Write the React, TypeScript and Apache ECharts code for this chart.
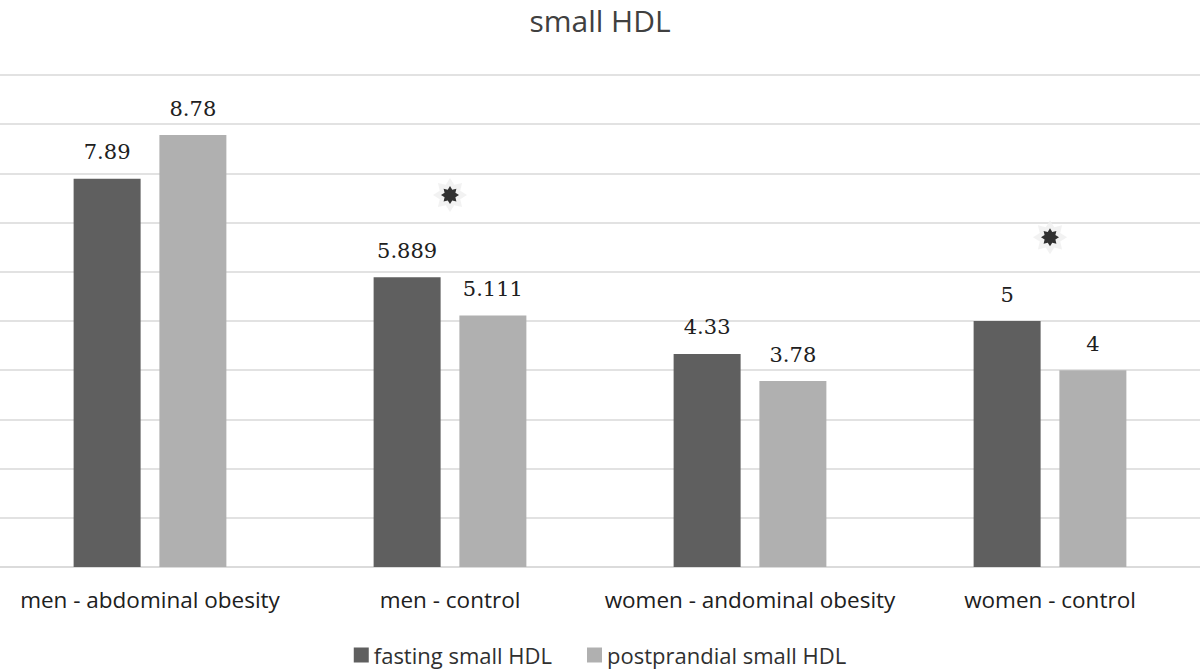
import React, { useEffect, useRef } from "react";
import * as echarts from "echarts";

const categories = ["men - abdominal obesity", "men - control", "women - andominal obesity", "women - control"];
const fasting = [7.89, 5.889, 4.33, 5];
const postprandial = [8.78, 5.111, 3.78, 4];
const fastingLabels = ["7.89", "5.889", "4.33", "5"];
const postLabels = ["8.78", "5.111", "3.78", "4"];
const starValues: (number | null)[] = [null, 7.56, null, 6.7];

const starPath =
  "path://M200,100 L160,125 L171,171 L125,160 L100,200 L75,160 L29,171 L40,125 L0,100 L40,75 L29,29 L75,40 L100,0 L125,40 L171,29 L160,75 Z";

export default function App() {
  const ref = useRef<HTMLDivElement>(null);
  useEffect(() => {
    if (!ref.current) return;
    const chart = echarts.init(ref.current, undefined, { renderer: "svg" });
    const font = "'Open Sans', sans-serif";
    const labelFont = "'DejaVu Serif', serif";
    chart.setOption({
      animation: false,
      backgroundColor: "#ffffff",
      title: {
        text: "small HDL",
        left: "center",
        top: 0,
        textStyle: { fontFamily: font, fontSize: 30, fontWeight: "normal", color: "#404040" },
      },
      legend: {
        data: ["fasting small HDL", "postprandial small HDL"],
        bottom: 0,
        left: "center",
        itemWidth: 15,
        itemHeight: 15,
        itemGap: 35,
        icon: "rect",
        textStyle: { fontFamily: font, fontSize: 22, color: "#303030" },
      },
      grid: { left: 0, right: 0, top: 75, bottom: 104, containLabel: false },
      xAxis: {
        type: "category",
        data: categories,
        axisLine: { lineStyle: { color: "#d9d9d9", width: 1.5 } },
        axisTick: { show: false },
        axisLabel: { fontFamily: font, fontSize: 22.5, color: "#202020", margin: 21, interval: 0 },
      },
      yAxis: {
        type: "value",
        min: 0,
        max: 10,
        interval: 1,
        axisLabel: { show: false },
        axisLine: { show: false },
        axisTick: { show: false },
        splitLine: { lineStyle: { color: "#d9d9d9", width: 1.5 } },
      },
      series: [
        {
          name: "fasting small HDL",
          type: "bar",
          data: fasting,
          barWidth: 67,
          barGap: "28%",
          itemStyle: { color: "#5f5f5f" },
          label: {
            show: true,
            position: "top",
            distance: 16,
            fontFamily: labelFont,
            fontSize: 21,
            color: "#202020",
            formatter: (p: any) => fastingLabels[p.dataIndex],
          },
        },
        {
          name: "postprandial small HDL",
          type: "bar",
          data: postprandial,
          barWidth: 67,
          itemStyle: { color: "#b0b0b0" },
          label: {
            show: true,
            position: "top",
            distance: 16,
            fontFamily: labelFont,
            fontSize: 21,
            color: "#202020",
            formatter: (p: any) => postLabels[p.dataIndex],
          },
        },
        {
          name: "star glow",
          type: "scatter",
          data: starValues,
          symbol: starPath,
          symbolSize: 34,
          itemStyle: { color: "#efefef" },
          z: 5,
          silent: true,
        },
        {
          name: "star",
          type: "scatter",
          data: starValues,
          symbol: starPath,
          symbolSize: 18,
          itemStyle: { color: "#000000" },
          z: 6,
          silent: true,
        },
      ],
    });
    return () => chart.dispose();
  }, []);
  return <div ref={ref} style={{ position: "fixed", left: 0, top: 0, width: 1200, height: 671 }} />;
}
